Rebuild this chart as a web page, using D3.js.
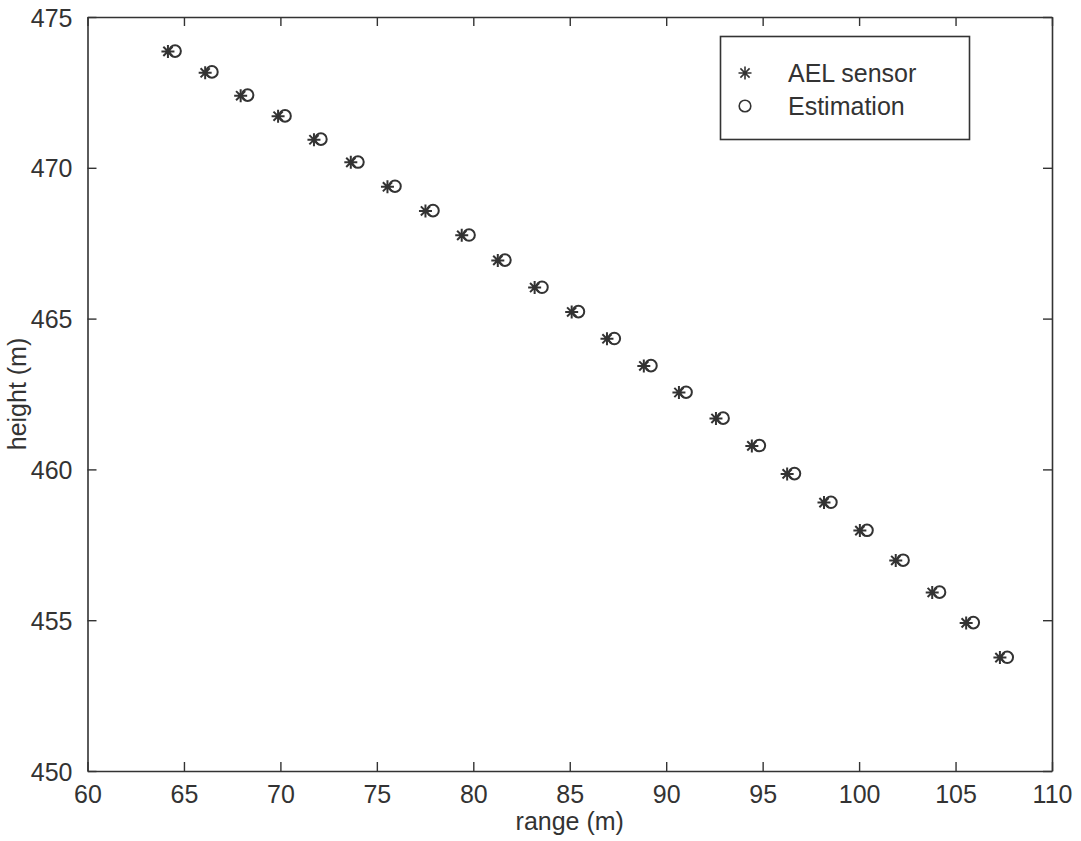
<!DOCTYPE html>
<html>
<head>
<meta charset="utf-8">
<script src="https://cdn.jsdelivr.net/npm/d3@7"></script>
<style>
  body { margin: 0; background: #fff; }
  svg text { font-family: "Liberation Sans", Arial, sans-serif; fill: #333; }
</style>
</head>
<body>
<div id="chart"></div>
<script>
// data
let sensorRange = [64.17, 66.10, 67.94, 69.88, 71.74, 73.65, 75.55, 77.52, 79.40, 81.27, 83.18, 85.10,
                   86.93, 88.84, 90.66, 92.58, 94.44, 96.27, 98.18, 100.04, 101.90, 103.79, 105.55, 107.30];
let sensorHeight = [473.86, 473.15, 472.39, 471.71, 470.93, 470.18, 469.37, 468.57, 467.76, 466.93, 466.03, 465.22,
                    464.33, 463.43, 462.55, 461.69, 460.78, 459.85, 458.90, 457.97, 456.98, 455.92, 454.91, 453.76];
let estRange = [64.54, 66.45, 68.30, 70.24, 72.10, 74.02, 75.94, 77.91, 79.78, 81.64, 83.56, 85.45,
                87.31, 89.21, 91.03, 92.95, 94.83, 96.65, 98.54, 100.41, 102.28, 104.17, 105.92, 107.68];
let estHeight = [473.87, 473.18, 472.41, 471.72, 470.95, 470.19, 469.39, 468.58, 467.77, 466.94, 466.04, 465.23,
                 464.34, 463.44, 462.56, 461.70, 460.79, 459.86, 458.91, 457.98, 456.99, 455.93, 454.92, 453.77];
let xTicks = [60, 65, 70, 75, 80, 85, 90, 95, 100, 105, 110];
let yTicks = [450, 455, 460, 465, 470, 475];
let legendItems = ['AEL sensor', 'Estimation'];

let W = 1081, H = 841;
let margin = {top: 17, right: 29, bottom: 70, left: 87.5};
let width = W - margin.left - margin.right;
let height = H - margin.top - margin.bottom;
let ink = '#333';

let svg = d3.select('#chart').append('svg').attr('width', W).attr('height', H);
let g = svg.append('g').attr('transform', 'translate(' + margin.left + ',' + margin.top + ')');

let x = d3.scaleLinear().domain([60, 110]).range([0, width]);
let y = d3.scaleLinear().domain([450, 475]).range([height, 0]);

// axes, ticks pointing inward on all four sides
let tickLen = 9;
let xAxis = g.append('g').attr('transform', 'translate(0,' + height + ')')
    .call(d3.axisBottom(x).tickValues(xTicks).tickSize(-tickLen).tickPadding(tickLen + 5).tickSizeOuter(0));
let yAxis = g.append('g')
    .call(d3.axisLeft(y).tickValues(yTicks).tickSize(-tickLen).tickPadding(tickLen + 6).tickSizeOuter(0));
g.append('g').call(d3.axisTop(x).tickValues(xTicks).tickSize(-tickLen).tickFormat('').tickSizeOuter(0));
g.append('g').attr('transform', 'translate(' + width + ',0)')
    .call(d3.axisRight(y).tickValues(yTicks).tickSize(-tickLen).tickFormat('').tickSizeOuter(0));

g.selectAll('.domain').attr('stroke', ink).attr('stroke-width', 1.6);
g.selectAll('.tick line').attr('stroke', ink).attr('stroke-width', 1.4);
g.selectAll('.tick text').style('font-size', '25px').attr('fill', ink);
yAxis.selectAll('.tick text').attr('dy', '0.36em');

// axis labels
g.append('text').attr('x', width / 2).attr('y', height + 59)
    .style('text-anchor', 'middle').style('font-size', '25px').text('range (m)');
g.append('text').attr('transform', 'translate(' + (-62) + ',' + height / 2 + ') rotate(-90)')
    .style('text-anchor', 'middle').style('font-size', '25px').text('height (m)');

// markers
function asterisk(r) {
    let p = d3.path();
    let d = r * Math.SQRT1_2;
    p.moveTo(-r, 0); p.lineTo(r, 0);
    p.moveTo(0, -r); p.lineTo(0, r);
    p.moveTo(-d, -d); p.lineTo(d, d);
    p.moveTo(-d, d); p.lineTo(d, -d);
    return p.toString();
}

let sensor = sensorRange.map(function(v, i) { return {x: v, y: sensorHeight[i]}; });
let est = estRange.map(function(v, i) { return {x: v, y: estHeight[i]}; });

g.selectAll('.sensor').data(sensor).enter().append('path')
    .attr('class', 'sensor')
    .attr('d', asterisk(6.5))
    .attr('transform', function(d) { return 'translate(' + x(d.x) + ',' + y(d.y) + ')'; })
    .attr('stroke', ink).attr('stroke-width', 2).attr('fill', 'none');

g.selectAll('.est').data(est).enter().append('circle')
    .attr('class', 'est')
    .attr('cx', function(d) { return x(d.x); })
    .attr('cy', function(d) { return y(d.y); })
    .attr('r', 5.8)
    .attr('stroke', ink).attr('stroke-width', 2).attr('fill', 'none');

// legend
let legend = svg.append('g').attr('transform', 'translate(720.5,36.5)');
legend.append('rect').attr('width', 249).attr('height', 103)
    .attr('fill', '#fff').attr('stroke', ink).attr('stroke-width', 1.6);
let item = legend.selectAll('.legend_item').data(legendItems).enter().append('g')
    .attr('class', 'legend_item')
    .attr('transform', function(d, i) { return 'translate(0,' + (36.5 + i * 33) + ')'; });
item.append('path').filter(function(d, i) { return i === 0; })
    .attr('d', asterisk(6.5)).attr('transform', 'translate(24.5,0)')
    .attr('stroke', ink).attr('stroke-width', 1.6).attr('fill', 'none');
item.filter(function(d, i) { return i === 1; }).append('circle')
    .attr('cx', 24.5).attr('r', 5.8)
    .attr('stroke', ink).attr('stroke-width', 1.6).attr('fill', 'none');
item.append('text').attr('x', 67.5).attr('dy', '0.36em').style('font-size', '25px')
    .text(function(d) { return d; });
</script>
</body>
</html>
